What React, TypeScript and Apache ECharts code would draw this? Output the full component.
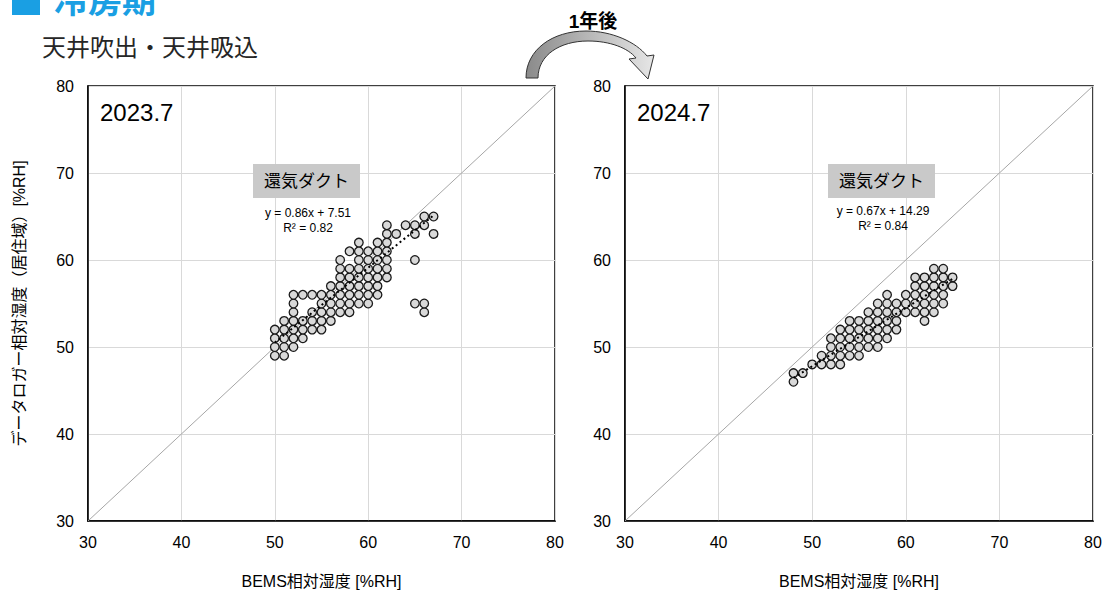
import React, { useEffect, useRef } from "react";
import * as echarts from "echarts";

// Paired humidity readings [BEMS %RH, data logger %RH], July 2023
const pts2023: number[][] = [
  [50, 49], [51, 49],
  [50, 50], [51, 50], [52, 50],
  [50, 51], [51, 51], [52, 51], [53, 51],
  [50, 52], [51, 52], [52, 52], [53, 52], [54, 52], [55, 52],
  [51, 53], [52, 53], [53, 53], [54, 53], [55, 53], [56, 53],
  [52, 54], [54, 54], [55, 54], [56, 54], [57, 54], [58, 54], [66, 54],
  [52, 55], [55, 55], [56, 55], [57, 55], [58, 55], [59, 55], [60, 55], [65, 55], [66, 55],
  [52, 56], [53, 56], [54, 56], [55, 56], [56, 56], [57, 56], [58, 56], [59, 56], [60, 56], [61, 56],
  [56, 57], [57, 57], [58, 57], [59, 57], [60, 57], [61, 57],
  [57, 58], [58, 58], [59, 58], [60, 58], [61, 58], [62, 58],
  [57, 59], [58, 59], [59, 59], [60, 59], [61, 59], [62, 59],
  [57, 60], [59, 60], [60, 60], [61, 60], [62, 60], [65, 60],
  [58, 61], [59, 61], [60, 61], [61, 61], [62, 61],
  [59, 62], [61, 62], [62, 62],
  [62, 63], [63, 63], [65, 63], [67, 63],
  [62, 64], [64, 64], [65, 64], [66, 64],
  [66, 65], [67, 65],
];

// Paired humidity readings [BEMS %RH, data logger %RH], July 2024
const pts2024: number[][] = [
  [48, 46],
  [48, 47], [49, 47],
  [50, 48], [51, 48], [52, 48], [53, 48],
  [51, 49], [52, 49], [53, 49], [54, 49], [55, 49],
  [52, 50], [53, 50], [54, 50], [55, 50], [56, 50], [57, 50],
  [52, 51], [53, 51], [54, 51], [55, 51], [56, 51], [57, 51], [58, 51],
  [53, 52], [54, 52], [55, 52], [56, 52], [57, 52], [58, 52], [59, 52],
  [54, 53], [55, 53], [56, 53], [57, 53], [58, 53], [59, 53], [62, 53],
  [56, 54], [57, 54], [58, 54], [59, 54], [60, 54], [61, 54], [62, 54], [63, 54],
  [57, 55], [58, 55], [59, 55], [60, 55], [61, 55], [62, 55], [63, 55], [64, 55],
  [58, 56], [60, 56], [61, 56], [62, 56], [63, 56], [64, 56],
  [61, 57], [62, 57], [63, 57], [64, 57], [65, 57],
  [61, 58], [62, 58], [63, 58], [64, 58], [65, 58],
  [63, 59], [64, 59],
];

// Linear fits: slope, intercept, R² and the x range the fit line spans
const fit2023 = { slope: 0.86, intercept: 7.51, r2: 0.82, xFrom: 50, xTo: 67 };
const fit2024 = { slope: 0.67, intercept: 14.29, r2: 0.84, xFrom: 48, xTo: 65 };

const axisTicks = { min: 30, max: 80, interval: 10 };
const periodLabels = ["2023.7", "2024.7"];
const ductLabel = "還気ダクト";
const xTitle = "BEMS相対湿度 [%RH]";
const yTitle = "データロガー相対湿度（居住域）[%RH]";
const pageTitle = "冷房期";
const pageSubtitle = "天井吹出・天井吸込";
const arrowLabel = "1年後";

const FONT = "'Liberation Sans', Arial, 'Noto Sans CJK JP', sans-serif";

// Curved "one year later" arrow outline
const ARROW_D =
  "M 526 78 C 526 50 552 31 586 31 C 612 31 636 42 647 56 L 654 55 L 648 79 L 629 59 L 636 58 C 628 48 610 41 588 41 C 560 41 538 55 538 78 Z";
echarts.graphic.registerShape("yearArrow", echarts.graphic.extendPath(ARROW_D, {}) as any);

function fitLine(f: typeof fit2023): number[][] {
  return [
    [f.xFrom, f.slope * f.xFrom + f.intercept],
    [f.xTo, f.slope * f.xTo + f.intercept],
  ];
}

function fmtEq(f: typeof fit2023) {
  return `y = ${f.slope.toFixed(2)}x + ${f.intercept.toFixed(2)}`;
}

export default function App() {
  const ref = useRef<HTMLDivElement>(null);

  useEffect(() => {
    if (!ref.current) return;
    const chart = echarts.init(ref.current, undefined, { renderer: "svg" });

    const grids = [
      { left: 88, top: 86, width: 467, height: 435 },
      { left: 625, top: 86, width: 468, height: 435 },
    ];

    const mkX = (i: number) => ({
      type: "value",
      gridIndex: i,
      ...axisTicks,
      name: xTitle,
      nameLocation: "middle",
      nameGap: 52,
      nameTextStyle: { fontSize: 16, color: "#000", fontFamily: FONT },
      axisLine: { show: true, lineStyle: { color: "#000", width: 1.5 } },
      axisTick: { show: false },
      axisLabel: { fontSize: 16, color: "#000", fontFamily: FONT, margin: 13 },
      splitLine: { show: true, lineStyle: { color: "#d9d9d9", width: 1 } },
    });
    const mkY = (i: number) => ({
      type: "value",
      gridIndex: i,
      ...axisTicks,
      name: i === 0 ? yTitle : "",
      nameLocation: "middle",
      nameGap: 61,
      nameRotate: 90,
      nameTextStyle: { fontSize: 16, color: "#000", fontFamily: FONT },
      axisLine: { show: true, lineStyle: { color: "#000", width: 1.5 } },
      axisTick: { show: false },
      axisLabel: { fontSize: 16, color: "#000", fontFamily: FONT, margin: 14 },
      splitLine: { show: true, lineStyle: { color: "#d9d9d9", width: 1 } },
    });

    const mkSeries = (i: number, pts: number[][], f: typeof fit2023) => [
      {
        type: "line",
        xAxisIndex: i,
        yAxisIndex: i,
        data: [[30, 30], [80, 80]],
        symbol: "none",
        silent: true,
        lineStyle: { color: "#a6a6a6", width: 1 },
        z: 1,
      },
      {
        type: "scatter",
        xAxisIndex: i,
        yAxisIndex: i,
        data: pts,
        symbol: "circle",
        symbolSize: 8.6,
        itemStyle: { color: "#d9d9d9", borderColor: "#1a1a1a", borderWidth: 1.3, opacity: 1 },
        z: 3,
      },
      {
        type: "line",
        xAxisIndex: i,
        yAxisIndex: i,
        data: fitLine(f),
        symbol: "none",
        lineStyle: { color: "#000", width: 2, type: [2, 3] },
        z: 5,
      },
    ];

    const labelBox = (x: number, f: typeof fit2023, eqX: number, eqY: number) => [
      { type: "rect", shape: { x, y: 164, width: 107, height: 34 }, style: { fill: "#c9c9c9" }, z: 10 },
      {
        type: "text",
        x: x + 53.5,
        y: 181,
        style: { text: ductLabel, fontSize: 17, fill: "#000", fontFamily: FONT, align: "center", verticalAlign: "middle" },
        z: 11,
      },
      {
        type: "text",
        x: eqX,
        y: eqY,
        style: { text: fmtEq(f), fontSize: 12, fill: "#000", fontFamily: FONT, align: "center", verticalAlign: "middle" },
        z: 11,
      },
      {
        type: "text",
        x: eqX,
        y: eqY + 15,
        style: { text: `R² = ${f.r2.toFixed(2)}`, fontSize: 12, fill: "#000", fontFamily: FONT, align: "center", verticalAlign: "middle" },
        z: 11,
      },
    ];

    chart.setOption({
      animation: false,
      backgroundColor: "#fff",
      grid: grids.map((g) => ({ ...g, show: true, borderColor: "#000", borderWidth: 1.5, backgroundColor: "transparent" })),
      xAxis: [mkX(0), mkX(1)],
      yAxis: [mkY(0), mkY(1)],
      series: [...mkSeries(0, pts2023, fit2023), ...mkSeries(1, pts2024, fit2024)],
      graphic: [
        { type: "rect", shape: { x: 12, y: -13, width: 28, height: 28 }, style: { fill: "#1a9fe3" } },
        {
          type: "text",
          x: 54,
          y: 1,
          style: { text: pageTitle, fontSize: 34, fontWeight: "bold", fill: "#1a9fe3", fontFamily: FONT, verticalAlign: "middle" },
        },
        {
          type: "text",
          x: 42,
          y: 47,
          style: { text: pageSubtitle, fontSize: 24, fill: "#262626", fontFamily: FONT, verticalAlign: "middle" },
        },
        {
          type: "text",
          x: 593,
          y: 21,
          style: { text: arrowLabel, fontSize: 19, fontWeight: "bold", fill: "#000", fontFamily: FONT, align: "center", verticalAlign: "middle" },
        },
        {
          type: "yearArrow",
          x: 0,
          y: 0,
          style: {
            fill: new echarts.graphic.LinearGradient(0, 0, 1, 0, [
              { offset: 0, color: "#8a8a8a" },
              { offset: 1, color: "#e6e6e6" },
            ]),
            stroke: "#333",
            lineWidth: 1,
          },
        },
        {
          type: "text",
          x: 100,
          y: 112,
          style: { text: periodLabels[0], fontSize: 24, fill: "#000", fontFamily: FONT, verticalAlign: "middle" },
          z: 11,
        },
        {
          type: "text",
          x: 637,
          y: 112,
          style: { text: periodLabels[1], fontSize: 24, fill: "#000", fontFamily: FONT, verticalAlign: "middle" },
          z: 11,
        },
        ...labelBox(253, fit2023, 308, 213),
        ...labelBox(828, fit2024, 883, 211),
      ],
    });

    return () => chart.dispose();
  }, []);

  return <div ref={ref} style={{ position: "fixed", left: 0, top: 0, width: 1110, height: 594 }} />;
}
